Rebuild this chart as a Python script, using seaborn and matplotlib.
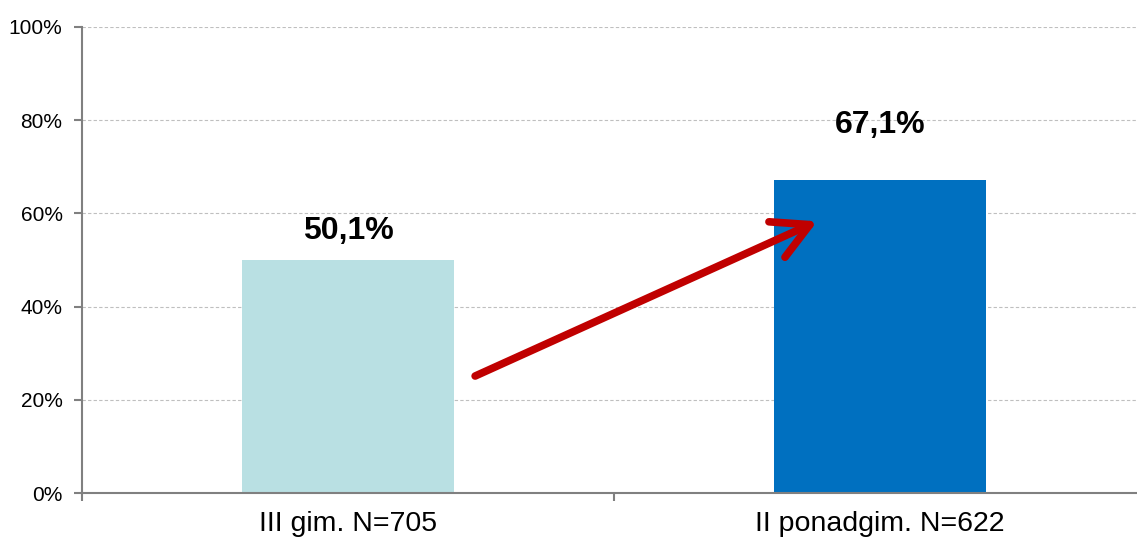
import matplotlib.pyplot as plt
import seaborn as sns
import pandas as pd

categories = ["III gim. N=705", "II ponadgim. N=622"]
values = [50.1, 67.1]
value_labels = ["50,1%", "67,1%"]
bar_colors = ["#B9E0E3", "#0070C0"]
y_ticks = [0, 20, 40, 60, 80, 100]

sns.set_style("white")
plt.rcParams["font.family"] = ["Liberation Sans", "DejaVu Sans"]
plt.rcParams["text.color"] = "black"
plt.rcParams["xtick.color"] = "black"
plt.rcParams["ytick.color"] = "black"

df = pd.DataFrame({"cat": categories, "val": values})

fig = plt.figure(figsize=(11.37, 5.42), dpi=100)
ax = fig.add_axes([0.0721, 0.0904, 0.9358, 0.8598])

sns.barplot(data=df, x="cat", y="val", hue="cat", palette=bar_colors,
            width=0.4, legend=False, ax=ax, saturation=1, linewidth=0)

ax.set_ylim(0, 100)
ax.set_xlim(-0.5, 1.5)
ax.set_yticks(y_ticks)
ax.set_yticklabels([f"{t}%" for t in y_ticks], fontsize=15)
ax.set_xticks([0, 1])
ax.set_xticklabels(categories, fontsize=20.5)
ax.set_xticks([-0.5, 0.5, 1.5], minor=True)
ax.tick_params(axis="x", which="major", bottom=True, length=0, pad=13)
ax.tick_params(axis="x", which="minor", bottom=True, length=6, width=1.5,
               color="#808080", direction="out")
ax.tick_params(axis="y", left=True, length=6, width=1.5, color="#808080",
               labelcolor="black", direction="out", pad=8)
ax.set_xlabel("")
ax.set_ylabel("")

ax.yaxis.grid(True, linestyle=(0, (3, 2)), color="#BFBFBF", linewidth=0.8)
ax.set_axisbelow(True)
for s in ["top", "right"]:
    ax.spines[s].set_visible(False)
for s in ["left", "bottom"]:
    ax.spines[s].set_color("#808080")
    ax.spines[s].set_linewidth(1.5)

# value labels placed like in the original
ax.text(0, 56.2, value_labels[0], ha="center", va="center", fontsize=23, fontweight="bold")
ax.text(1, 79.0, value_labels[1], ha="center", va="center", fontsize=23, fontweight="bold")

ax.annotate("", xy=(0.882, 58.3), xytext=(0.239, 25.1),
            arrowprops=dict(arrowstyle="->,head_length=1.3,head_width=0.7",
                            mutation_scale=20, shrinkA=0, shrinkB=0,
                            color="#C00000", lw=5.5, capstyle="round"))

fig.savefig("out.png", dpi=100)
